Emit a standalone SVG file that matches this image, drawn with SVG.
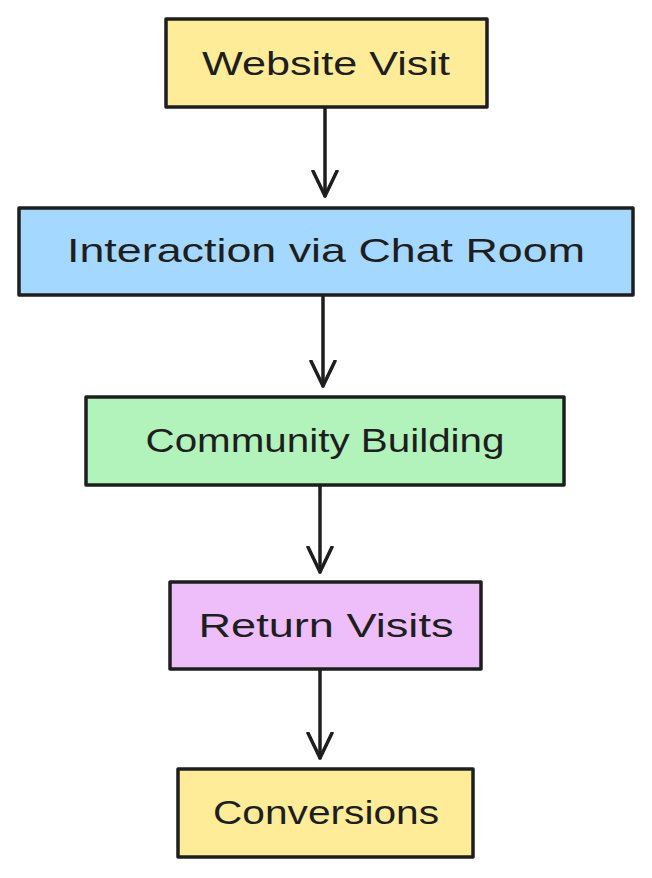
<svg xmlns="http://www.w3.org/2000/svg" width="652" height="878" viewBox="0 0 652 878">
<style>
.box{stroke:#1e1e1e;stroke-width:3.5;stroke-linejoin:round}
.lbl{font-family:"Liberation Sans",Arial,sans-serif;font-size:34px;fill:#1e1e1e;text-anchor:middle}
.edge{stroke:#1e1e1e;stroke-width:3.5;fill:none;stroke-linecap:round;stroke-linejoin:round}
</style>
<defs>
<marker id="ah" viewBox="0 0 28 30" markerWidth="28" markerHeight="30" refX="26" refY="15" orient="auto" markerUnits="userSpaceOnUse">
<path d="M1 3 L26 15 L1 27" fill="none" stroke="#1e1e1e" stroke-width="3.5" stroke-linecap="round" stroke-linejoin="round"/>
</marker>
</defs>
<rect width="652" height="878" fill="#ffffff"/>
<g id="connectors">
<path class="edge" d="M325 108 L325 196" marker-end="url(#ah)"/>
<path class="edge" d="M323 296 L323 386" marker-end="url(#ah)"/>
<path class="edge" d="M320 486 L320 572" marker-end="url(#ah)"/>
<path class="edge" d="M320 670 L320 758" marker-end="url(#ah)"/>
</g>
<g id="node-website-visit">
<rect class="box" x="166" y="19" width="321" height="88" fill="#ffec99"/>
<text class="lbl" x="326" y="75" textLength="248" lengthAdjust="spacingAndGlyphs">Website Visit</text>
</g>
<g id="node-interaction">
<rect class="box" x="19" y="208" width="614" height="87" fill="#a5d8ff"/>
<text class="lbl" x="326" y="262" textLength="518" lengthAdjust="spacingAndGlyphs">Interaction via Chat Room</text>
</g>
<g id="node-community">
<rect class="box" x="86" y="397" width="478" height="88" fill="#b2f2bb"/>
<text class="lbl" x="325" y="452" textLength="359" lengthAdjust="spacingAndGlyphs">Community Building</text>
</g>
<g id="node-return">
<rect class="box" x="170" y="582" width="311" height="87" fill="#eebefa"/>
<text class="lbl" x="326" y="637" textLength="255" lengthAdjust="spacingAndGlyphs">Return Visits</text>
</g>
<g id="node-conversions">
<rect class="box" x="178" y="769" width="295" height="88" fill="#ffec99"/>
<text class="lbl" x="326" y="824" textLength="226" lengthAdjust="spacingAndGlyphs">Conversions</text>
</g>
</svg>
